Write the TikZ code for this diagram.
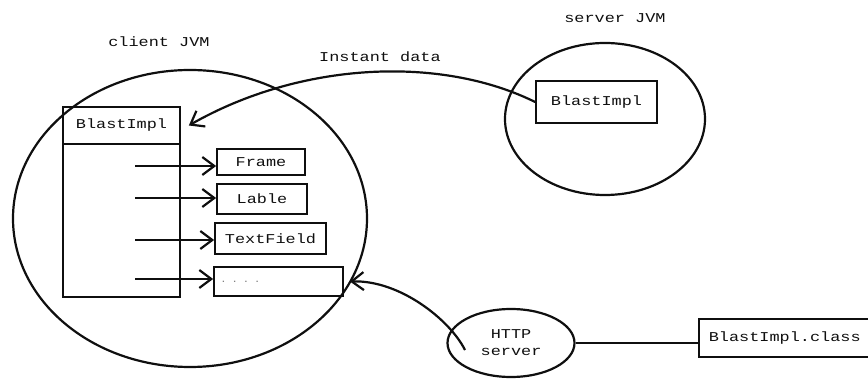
\documentclass[tikz,border=0pt]{standalone}
\usepackage{fontspec}
\setmonofont[FakeStretch=1.25]{Liberation Mono}
\usetikzlibrary{shapes.geometric,arrows.meta}
\definecolor{ink}{RGB}{15,15,15}

\begin{document}
\begin{tikzpicture}[x=1pt, y=-1pt,
        font=\ttfamily\fontsize{13.5}{17}\selectfont, text=ink,
        jvm/.style = {draw=ink, ellipse, line width=2.2pt},
        box/.style = {draw=ink, rectangle, line width=1.7pt, inner sep=0pt},
        arr/.style = {-{Straight Barb[length=12pt, width=18pt]}, draw=ink, line width=2.2pt}]
    \useasboundingbox (0,0) rectangle (868,379);

    \node[jvm, minimum width=354, minimum height=297] (client) at (190,218.5) {};
    \node[jvm, minimum width=200, minimum height=152] (server) at (605,119) {};
    \node[jvm, minimum width=127, minimum height=68, align=center] (http) at (511,343) {HTTP\\server};

    \node (clientlbl) at (159,42) {client JVM};
    \node (serverlbl) at (615,18) {server JVM};
    \node (datalbl) at (380,57) {Instant data};

    \node[box, minimum width=117, minimum height=37] (hdr) at (121.5,125.5) {BlastImpl};
    \node[box, minimum width=117, minimum height=153] (body) at (121.5,220.5) {};
    \node[box, minimum width=88, minimum height=26] (frame) at (261,162) {Frame};
    \node[box, minimum width=90, minimum height=30] (lable) at (262,199) {Lable};
    \node[box, minimum width=111, minimum height=31] (field) at (270.5,238.5) {TextField};
    \node[box, text width=117, inner xsep=6, minimum height=29, align=left, text=gray, font=\ttfamily\small] (more) at (278.5,281.5) {. . . .};

    \node[box, minimum width=121, minimum height=42] (simpl) at (596.5,102) {BlastImpl};
    \node[box, text width=160, inner xsep=10, minimum height=38, align=left, anchor=west] (cls) at (698,338) {BlastImpl.class};

    \foreach \b/\y in {frame/166, lable/198, field/240, more/279} {
        \coordinate (s\b) at (135,\y);
        \draw[arr] (s\b) -- (s\b -| \b.west);
    }

    \draw[arr] (simpl.west) .. controls (440,55) and (300,62) .. ([xshift=8]hdr.east);
    \coordinate (h) at (465,350);
    \draw[arr] (h) .. controls (450,320) and (400,280) .. ([xshift=6]more.east);
    \draw[draw=ink, line width=2.2pt] (http.east) -- (http.east -| cls.west);
\end{tikzpicture}
\end{document}
